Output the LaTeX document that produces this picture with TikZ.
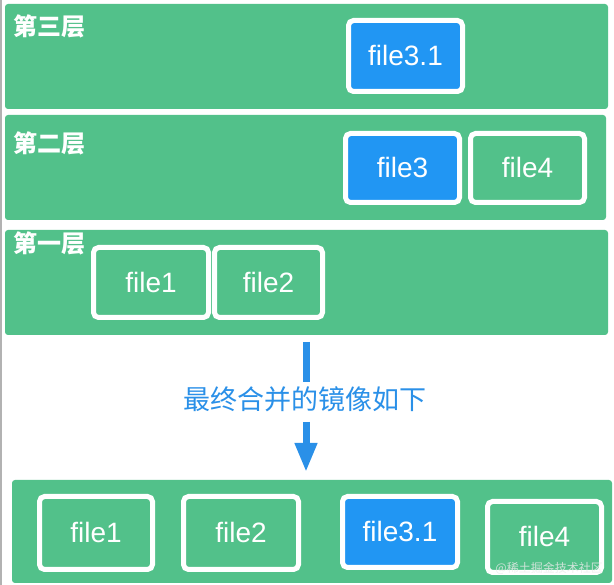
\documentclass[tikz,border=0pt]{standalone}
\usepackage{fontspec}
\setmainfont{Liberation Sans}
\newfontfamily\cjk{Noto Sans CJK SC}
\usetikzlibrary{arrows.meta}
\definecolor{lgreen}{RGB}{82,193,138}
\definecolor{fblue}{RGB}{33,150,243}
\definecolor{tblue}{RGB}{42,144,232}
\tikzset{
  layer/.style={fill=lgreen, draw=none, rounded corners=3pt},
  filebox/.style={draw=white, line width=5pt, rounded corners=5pt, fill=lgreen,
    text=white, font=\fontsize{28}{30}\selectfont, inner sep=0pt},
  bluebox/.style={filebox, fill=fblue},
  layerlabel/.style={anchor=west, text=white, font=\cjk\bfseries\fontsize{24}{26}\selectfont, inner sep=0pt},
  msgtext/.style={text=tblue, font=\cjk\fontsize{27}{29}\selectfont, inner sep=0pt},
  flowline/.style={draw=tblue, line width=7pt},
  flowarrow/.style={flowline, -{Triangle[width=21pt,length=29pt]}},
  wmtext/.style={text=white!85!gray, opacity=0.8, font=\cjk\fontsize{12}{13}\selectfont, inner sep=0pt}
}
\begin{document}
\begin{tikzpicture}[x=1pt,y=1pt]
\useasboundingbox (0,0) rectangle (614,585);
\fill[white] (0,0) rectangle (614,585);
\draw[gray!60, line width=1.5pt] (1,0) -- (1,585);

% layers
\path[layer] (5,476) rectangle (608,581);
\path[layer] (5,365) rectangle (606,470);
\path[layer] (5,250) rectangle (608,355);
\path[layer] (12,2) rectangle (612,105);

\node[layerlabel] (lab3) at (13,558.5) {第三层};
\node[layerlabel] (lab2) at (13,441.5) {第二层};
\node[layerlabel] (lab1) at (13,341.5) {第一层};

% layer 3
\node[bluebox, minimum width=114pt, minimum height=71pt] (l3f31) at (405.5,529) {file3.1};
% layer 2
\node[bluebox, minimum width=114pt, minimum height=69pt] (l2f3) at (402.5,417) {file3};
\node[filebox, minimum width=114pt, minimum height=69pt] (l2f4) at (527.5,417) {file4};
% layer 1
\node[filebox, minimum width=115pt, minimum height=70pt] (l1f1) at (151,302.5) {file1};
\node[filebox, minimum width=108pt, minimum height=70pt] (l1f2) at (268.5,302.5) {file2};

% arrow + message
\node[msgtext] (msg) at (305,185.5) {最终合并的镜像如下};
\coordinate (a1) at (306,243);
\coordinate (a2) at (306,203);
\coordinate (a3) at (306,163);
\coordinate (a4) at (306,113);
\draw[flowline] (a1) -- (a2);
\draw[flowarrow] (a3) -- (a4);

% merged result
\node[filebox, minimum width=113pt, minimum height=73pt] (mf1) at (96,52) {file1};
\node[filebox, minimum width=115pt, minimum height=73pt] (mf2) at (241,52) {file2};
\node[bluebox, minimum width=115pt, minimum height=71pt] (mf31) at (400,53) {file3.1};
\node[filebox, minimum width=114pt, minimum height=71pt] (mf4) at (544.5,48) {file4};

\node[wmtext, anchor=east] (wm) at (603,17) {@稀土掘金技术社区};
\end{tikzpicture}
\end{document}
